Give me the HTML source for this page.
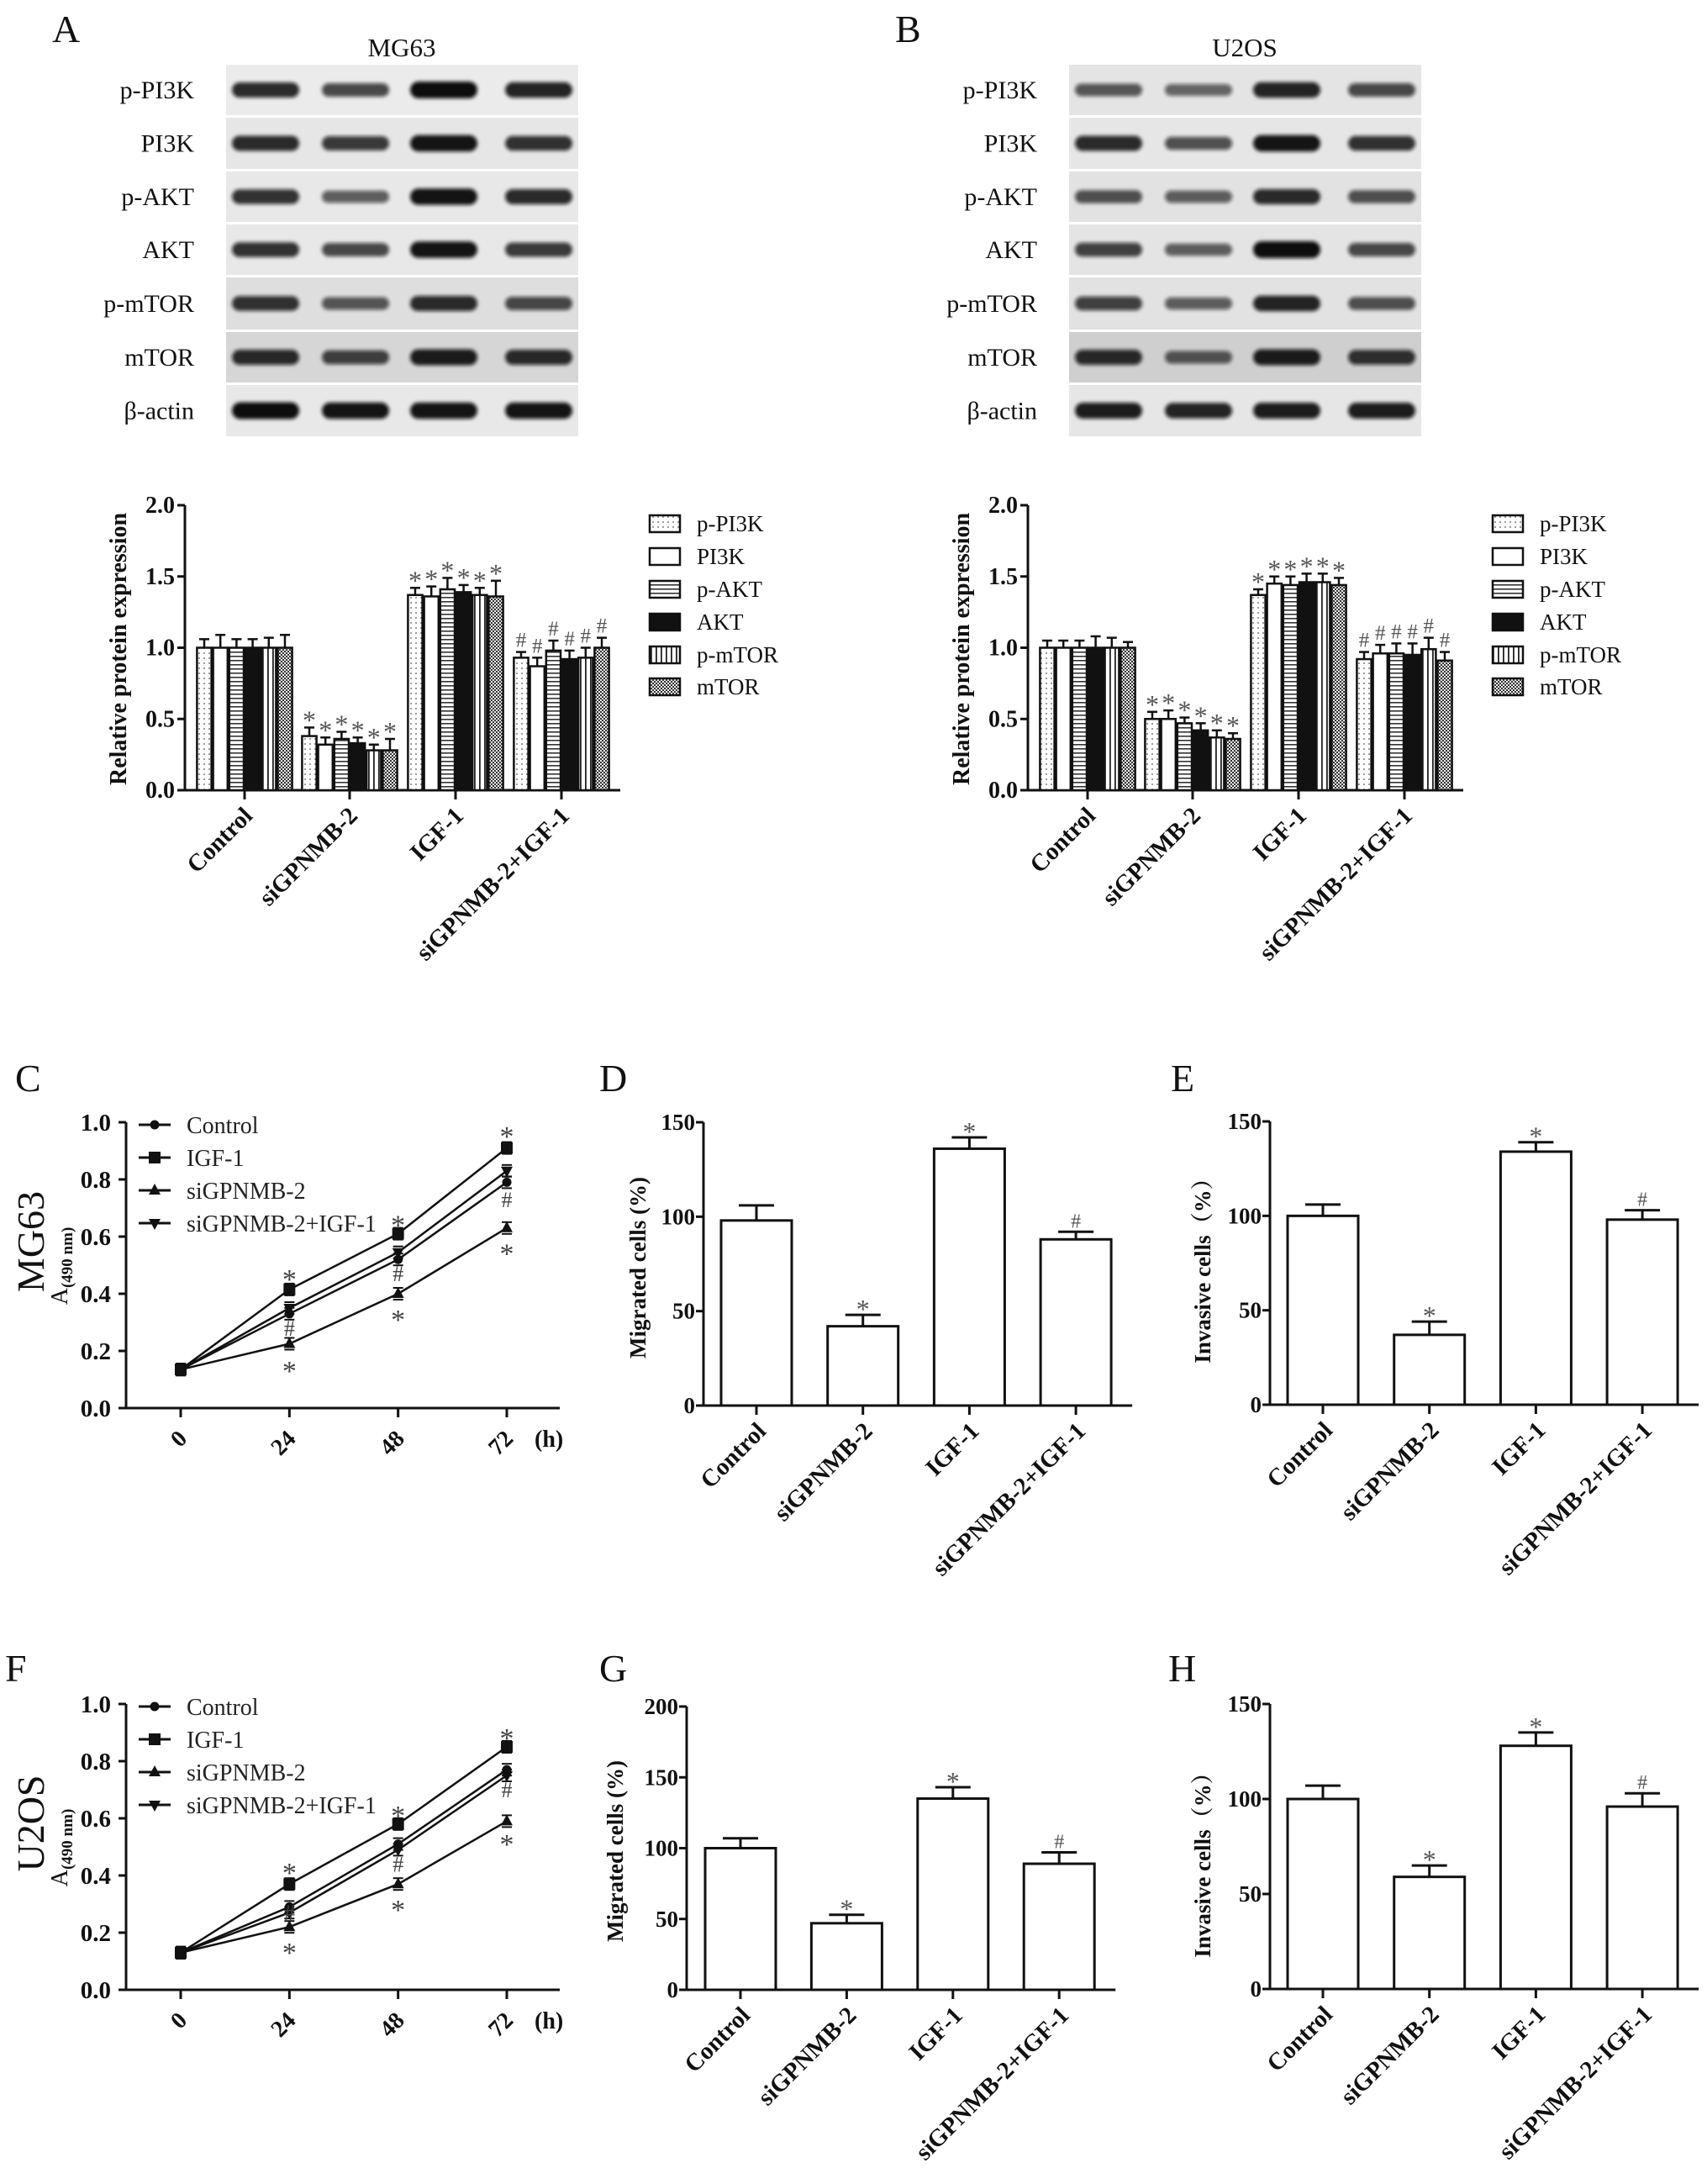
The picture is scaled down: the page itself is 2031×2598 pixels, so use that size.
<!DOCTYPE html>
<html><head><meta charset="utf-8"><style>
html,body{margin:0;padding:0;background:#fff;}
svg{display:block;font-family:"Liberation Serif","Noto Serif CJK SC",serif;}
</style></head><body>
<svg id="fig" xmlns="http://www.w3.org/2000/svg" width="2031" height="2598" viewBox="0 0 2031 2598">
<defs>
<pattern id="pDots" width="6" height="6" patternUnits="userSpaceOnUse"><rect width="6" height="6" fill="#fff"/><circle cx="3" cy="3" r="0.9" fill="#555"/></pattern>
<pattern id="pHor" width="6" height="5" patternUnits="userSpaceOnUse"><rect width="6" height="5" fill="#fff"/><rect y="0" width="6" height="1.6" fill="#333"/></pattern>
<pattern id="pVer" width="6" height="6" patternUnits="userSpaceOnUse"><rect width="6" height="6" fill="#fff"/><rect x="0" width="1.8" height="6" fill="#222"/></pattern>
<pattern id="pChk" width="4" height="4" patternUnits="userSpaceOnUse"><rect width="4" height="4" fill="#eee"/><rect width="2" height="2" fill="#333"/><rect x="2" y="2" width="2" height="2" fill="#333"/></pattern>
<filter id="blur" x="-20%" y="-50%" width="140%" height="200%"><feGaussianBlur stdDeviation="2.2"/></filter>
</defs>
</svg>
<script>
// ---------- data ----------
const groups = ["Control","siGPNMB-2","IGF-1","siGPNMB-2+IGF-1"];
const proteins = ["p-PI3K","PI3K","p-AKT","AKT","p-mTOR","mTOR"];
const blotRows = ["p-PI3K","PI3K","p-AKT","AKT","p-mTOR","mTOR","β-actin"];
const blotMG63 = [[0.8,0.6,1.0,0.85],[0.8,0.7,0.95,0.75],[0.75,0.45,0.95,0.8],[0.75,0.6,0.95,0.7],[0.75,0.5,0.8,0.6],[0.8,0.65,0.9,0.8],[1.0,0.95,0.95,0.95]];
const blotU2OS = [[0.5,0.4,0.85,0.6],[0.8,0.55,0.95,0.75],[0.55,0.45,0.8,0.55],[0.65,0.45,1.0,0.6],[0.65,0.45,0.85,0.55],[0.8,0.5,0.9,0.75],[0.9,0.85,0.9,0.9]];
const A_vals = [[1.0,1.0,1.0,1.0,1.0,1.0],[0.38,0.32,0.36,0.33,0.28,0.28],[1.37,1.36,1.41,1.39,1.37,1.36],[0.93,0.87,0.98,0.92,0.93,1.0]];
const A_errs = [[0.06,0.09,0.06,0.06,0.07,0.09],[0.06,0.05,0.05,0.04,0.04,0.08],[0.05,0.07,0.08,0.05,0.05,0.11],[0.04,0.06,0.07,0.06,0.07,0.07]];
const B_vals = [[1.0,1.0,1.0,1.0,1.0,1.0],[0.50,0.50,0.47,0.42,0.37,0.36],[1.37,1.45,1.44,1.46,1.46,1.44],[0.92,0.96,0.96,0.95,0.99,0.91]];
const B_errs = [[0.05,0.05,0.05,0.08,0.07,0.04],[0.05,0.06,0.04,0.05,0.05,0.04],[0.04,0.05,0.06,0.06,0.06,0.05],[0.05,0.06,0.07,0.08,0.08,0.06]];
const groupMarks = ["","*","*","#"];
const barTicks = [0,0.5,1.0,1.5,2.0];
const barTickLabels = ["0.0","0.5","1.0","1.5","2.0"];
const hours = [0,24,48,72];
const lineTicks = [0,0.2,0.4,0.6,0.8,1.0];
const lineTickLabels = ["0.0","0.2","0.4","0.6","0.8","1.0"];
const seriesNames = ["Control","IGF-1","siGPNMB-2","siGPNMB-2+IGF-1"];
const C_control = [0.135,0.33,0.52,0.79];
const C_igf = [0.135,0.415,0.61,0.91];
const C_si = [0.135,0.225,0.40,0.63];
const C_combo = [0.135,0.35,0.545,0.83];
const C_ann = [[],[["*",0.47],["#",0.28],["*",0.15]],[["*",0.66],["#",0.47],["*",0.33]],[["*",0.97],["#",0.73],["*",0.56]]];
const F_control = [0.13,0.29,0.51,0.77];
const F_igf = [0.13,0.37,0.58,0.85];
const F_si = [0.13,0.22,0.37,0.59];
const F_combo = [0.13,0.27,0.49,0.75];
const F_ann = [[],[["*",0.43],["#",0.27],["*",0.15]],[["*",0.63],["#",0.44],["*",0.30]],[["*",0.90],["#",0.70],["*",0.53]]];
const D_vals = [98,42,136,88]; const D_errs = [8,6,6,4];
const E_vals = [100,37,134,98]; const E_errs = [6,7,5,5];
const G_vals = [100,47,135,89]; const G_errs = [7,6,8,8];
const H_vals = [100,59,128,96]; const H_errs = [7,6,7,7];
const D_ticks = [0,50,100,150];
const G_ticks = [0,50,100,150,200];

// ---------- helpers ----------
const NS = "http://www.w3.org/2000/svg";
const svg = document.getElementById("fig");
function mk(tag, attrs, parent){
  const e = document.createElementNS(NS, tag);
  for (const k in attrs) e.setAttribute(k, attrs[k]);
  (parent||svg).appendChild(e);
  return e;
}
function txt(s, attrs, parent){ const e = mk("text", attrs, parent); e.textContent = s; return e; }
const fills = ["url(#pDots)","#fff","url(#pHor)","#111","url(#pVer)","url(#pChk)"];

// ---------- panel letters ----------
[["A",62,50],["B",1065,50],["C",18,1298],["D",713,1298],["E",1393,1298],["F",6,2000],["G",713,2000],["H",1390,2000]].forEach(p=>{
  const t = txt(p[0],{x:p[1],y:p[2],"font-size":46,fill:"#111"});
  
  
});

// ---------- blots ----------
function drawBlot(ox, title, data, bgs){
  const g = mk("g",{});
  
  
  const t = txt(title,{x:478+ox,y:67,"text-anchor":"middle","font-size":31,fill:"#111"},g);
  
  
  const tops = [77,140,204,267,330,395,458], bots=[137,201,264,327,392,455,519];
  const lanes = [316,423,528,641];
  blotRows.forEach((r,i)=>{
    const bg = mk("rect",{x:269+ox,y:tops[i],width:419,height:bots[i]-tops[i],fill:bgs[i]},g);
    
    
    const lb = txt(r,{x:231+ox,y:(tops[i]+bots[i])/2+10,"text-anchor":"end","font-size":30,fill:"#111"},g);
    
    
    lanes.forEach((lx,j)=>{
      const v = data[i][j];
      const h = 10+10*v;
      const b = mk("rect",{x:lx+ox-40,y:(tops[i]+bots[i])/2-h/2,width:80,height:h,rx:h/2,fill:"#111","fill-opacity":0.35+0.65*v,filter:"url(#blur)"},g);
      
      
    });
  });
}
drawBlot(0,"MG63",blotMG63,["#ebebeb","#e6e6e6","#e8e8e8","#e8e8e8","#dedede","#d6d6d6","#e8e8e8"]);
drawBlot(1003,"U2OS",blotU2OS,["#e4e4e4","#e6e6e6","#e2e2e2","#e4e4e4","#e2e2e2","#cfcfcf","#e6e6e6"]);

// ---------- grouped bar charts ----------
function drawGrouped(ox, vals, errs, name){
  const g = mk("g",{});
  
  
  const y = v => 940 - v*169.5;
  const ax = 220+ox;
  const centers = [291,416,542,668].map(c=>c+ox);
  mk("line",{x1:ax,y1:y(2),x2:ax,y2:940,stroke:"#111","stroke-width":3},g);
  const xa = mk("line",{x1:ax,y1:940,x2:738+ox,y2:940,stroke:"#111","stroke-width":3},g);
  
  
  barTicks.forEach((t,i)=>{
    mk("line",{x1:ax-9,y1:y(t),x2:ax,y2:y(t),stroke:"#111","stroke-width":3},g);
    const tl = txt(barTickLabels[i],{x:ax-12,y:y(t)+9,"text-anchor":"end","font-size":28,"font-weight":"bold",fill:"#111"},g);
    
    
  });
  const yl = txt("Relative  protein expression",{x:0,y:0,"text-anchor":"middle","font-size":28,"font-weight":"bold",fill:"#111",transform:`translate(${150+ox},772) rotate(-90)`},g);
  
  
  const bw = 19.2;
  groups.forEach((gname,gi)=>{
    const cx = centers[gi];
    mk("line",{x1:cx,y1:940,x2:cx,y2:951,stroke:"#111","stroke-width":3},g);
    const cl = txt(gname,{x:cx+11,y:972,"text-anchor":"end","font-size":29,"font-weight":"bold",fill:"#111",transform:`rotate(-45 ${cx+11} 972)`},g);
    
    
    vals[gi].forEach((v,pi)=>{
      const x0 = cx - 3*bw + pi*bw;
      const top = y(v+errs[gi][pi]);
      mk("line",{x1:x0+bw/2,y1:y(v),x2:x0+bw/2,y2:top,stroke:"#111","stroke-width":2.5},g);
      mk("line",{x1:x0+bw/2-6,y1:top,x2:x0+bw/2+6,y2:top,stroke:"#111","stroke-width":2.5},g);
      const r = mk("rect",{x:x0+1,y:y(v),width:bw-2,height:940-y(v),fill:fills[pi],stroke:"#111","stroke-width":2.5},g);
      
      
      if (groupMarks[gi]){
        const m = txt(groupMarks[gi],{x:x0+bw/2,y:top-(groupMarks[gi]=="*"?-2:6),"text-anchor":"middle","font-size":groupMarks[gi]=="*"?32:25,fill:"#555"},g);
        
        
      }
    });
  });
  const ly = [623,662,701,740,779,817];
  proteins.forEach((p,i)=>{
    const lg = mk("g",{},g);
    
    
    mk("rect",{x:773+ox,y:ly[i]-10,width:36,height:20,fill:fills[i],stroke:"#111","stroke-width":2.5},lg);
    txt(p,{x:829+ox,y:ly[i]+9,"font-size":27,fill:"#111"},lg);
  });
}
drawGrouped(0,A_vals,A_errs,"bar-chart-mg63-proteins");
drawGrouped(1003,B_vals,B_errs,"bar-chart-u2os-proteins");

// ---------- line charts ----------
function marker(kind,x,y,g){
  if(kind==0) return mk("circle",{cx:x,cy:y,r:5.5,fill:"#111"},g);
  if(kind==1) return mk("rect",{x:x-7,y:y-7,width:14,height:14,fill:"#111"},g);
  if(kind==2) return mk("polygon",{points:`${x},${y-8} ${x-7},${y+5} ${x+7},${y+5}`,fill:"#111"},g);
  return mk("polygon",{points:`${x},${y+8} ${x-7},${y-5} ${x+7},${y-5}`,fill:"#111"},g);
}
function drawLine(oy, series, ann, cell, name){
  const g = mk("g",{});
  
  
  const y = v => 1675+oy - v*340;
  const x = h => 215 + h*(388/72);
  mk("line",{x1:150,y1:y(1),x2:150,y2:y(0),stroke:"#111","stroke-width":3},g);
  mk("line",{x1:150,y1:y(0),x2:666,y2:y(0),stroke:"#111","stroke-width":3},g);
  lineTicks.forEach((t,i)=>{
    mk("line",{x1:141,y1:y(t),x2:150,y2:y(t),stroke:"#111","stroke-width":3},g);
    const tl = txt(lineTickLabels[i],{x:132,y:y(t)+10,"text-anchor":"end","font-size":29,"font-weight":"bold",fill:"#111"},g);
    
    
  });
  hours.forEach(h=>{
    mk("line",{x1:x(h),y1:y(0),x2:x(h),y2:y(0)+11,stroke:"#111","stroke-width":3},g);
    const tl = txt(String(h),{x:x(h)+9,y:y(0)+38,"text-anchor":"end","font-size":28,"font-weight":"bold",fill:"#111",transform:`rotate(-45 ${x(h)+9} ${y(0)+38})`},g);
    
    
  });
  const hl = txt("(h)",{x:636,y:y(0)+46,"font-size":28,"font-weight":"bold",fill:"#111"},g);
  
  
  const ct = txt(cell,{x:0,y:0,"text-anchor":"middle","font-size":46,fill:"#111",transform:`translate(52,${1477+oy}) rotate(-90)`},g);
  
  
  const yt = mk("text",{x:0,y:0,"text-anchor":"middle","font-size":28,fill:"#111",transform:`translate(80,${1506+oy}) rotate(-90)`},g);
  
  
  yt.innerHTML = 'A<tspan font-size="19" font-weight="bold" dy="6">(490 nm)</tspan>';
  series.forEach((s,si)=>{
    const pts = s.map((v,i)=>`${x(hours[i])},${y(v)}`).join(" ");
    const pl = mk("polyline",{points:pts,fill:"none",stroke:"#111","stroke-width":2.5},g);
    
    
    s.forEach((v,i)=>{
      mk("line",{x1:x(hours[i])-6,y1:y(v)-7,x2:x(hours[i])+6,y2:y(v)-7,stroke:"#111","stroke-width":2},g);
      mk("line",{x1:x(hours[i])-6,y1:y(v)+7,x2:x(hours[i])+6,y2:y(v)+7,stroke:"#111","stroke-width":2},g);
      const m = marker(si,x(hours[i]),y(v),g);
      
      
    });
    const ly = 1338+oy+si*39;
    const lg = mk("g",{},g);
    
    
    mk("line",{x1:165,y1:ly,x2:203,y2:ly,stroke:"#111","stroke-width":3},lg);
    marker(si,184,ly,lg);
    txt(seriesNames[si],{x:222,y:ly+10,"font-size":28,fill:"#222"},lg);
  });
  ann.forEach((list,i)=>{
    list.forEach(a=>{
      const m = txt(a[0],{x:x(hours[i]),y:y(a[1])+(a[0]=="*"?18:9),"text-anchor":"middle","font-size":a[0]=="*"?34:26,fill:"#444"},g);
      
      
    });
  });
}
drawLine(0,[C_control,C_igf,C_si,C_combo],C_ann,"MG63","line-chart-mg63-proliferation");
drawLine(692,[F_control,F_igf,F_si,F_combo],F_ann,"U2OS","line-chart-u2os-proliferation");

// ---------- single bar charts ----------
function drawBars(ax, yTop, yBot, maxV, ticks, c0, sp, vals, errs, title, tx, ty, name){
  const g = mk("g",{});
  
  
  const y = v => yBot - v/maxV*(yBot-yTop);
  const centers = groups.map((_,i)=>c0+i*sp);
  const endX = centers[3]+42+25;
  mk("line",{x1:ax,y1:yTop,x2:ax,y2:yBot,stroke:"#111","stroke-width":3},g);
  mk("line",{x1:ax-8,y1:yBot,x2:endX,y2:yBot,stroke:"#111","stroke-width":3},g);
  ticks.forEach(t=>{
    mk("line",{x1:ax-9,y1:y(t),x2:ax,y2:y(t),stroke:"#111","stroke-width":3},g);
    const tl = txt(String(t),{x:ax-10,y:y(t)+9,"text-anchor":"end","font-size":27,"font-weight":"bold",fill:"#111"},g);
    
    
  });
  const yl = txt(title,{x:0,y:0,"text-anchor":"middle","font-size":27,"font-weight":"bold",fill:"#111",transform:`translate(${tx},${ty}) rotate(-90)`},g);
  
  
  groups.forEach((gn,i)=>{
    const cx = centers[i];
    mk("line",{x1:cx,y1:yBot,x2:cx,y2:yBot+11,stroke:"#111","stroke-width":3},g);
    const cl = txt(gn,{x:cx+13,y:yBot+32,"text-anchor":"end","font-size":29,"font-weight":"bold",fill:"#111",transform:`rotate(-45 ${cx+13} ${yBot+32})`},g);
    
    
    const top = y(vals[i]+errs[i]);
    mk("line",{x1:cx,y1:y(vals[i]),x2:cx,y2:top,stroke:"#111","stroke-width":3},g);
    mk("line",{x1:cx-21,y1:top,x2:cx+21,y2:top,stroke:"#111","stroke-width":3},g);
    const r = mk("rect",{x:cx-42,y:y(vals[i]),width:84,height:yBot-y(vals[i]),fill:"#fff",stroke:"#111","stroke-width":3},g);
    
    
    if(groupMarks[i]){
      const m = txt(groupMarks[i],{x:cx,y:top-(groupMarks[i]=="*"?-4:5),"text-anchor":"middle","font-size":groupMarks[i]=="*"?32:24,fill:"#555"},g);
      
      
    }
  });
}
drawBars(837,1335,1672,150,D_ticks,900,126.7,D_vals,D_errs,"Migrated cells (%)",768,1508,"bar-chart-mg63-migration");
drawBars(1511,1334,1671,150,D_ticks,1574,126.7,E_vals,E_errs,"Invasive cells（%）",1440,1505,"bar-chart-mg63-invasion");
drawBars(817,2030,2367,200,G_ticks,881,126.4,G_vals,G_errs,"Migrated cells (%)",741,2202,"bar-chart-u2os-migration");
drawBars(1511,2027,2366,150,D_ticks,1574,126.7,H_vals,H_errs,"Invasive cells（%）",1440,2212,"bar-chart-u2os-invasion");
</script>
</body></html>
